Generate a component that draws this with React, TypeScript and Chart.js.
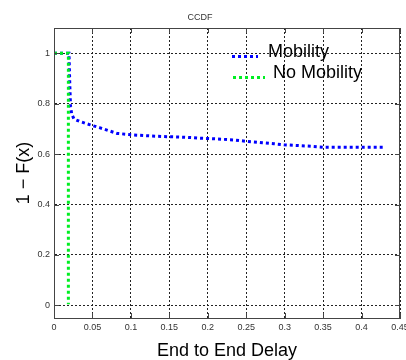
import React, { useEffect, useRef } from 'react';
import { Chart, registerables } from 'chart.js';

Chart.register(...registerables);

const seriesNames = ['Mobility', 'No Mobility'];
const seriesColors = ['#0000ff', '#00ee22'];

const mobilityX = [0, 0.0195, 0.0205, 0.0215, 0.023, 0.026, 0.033, 0.046, 0.06, 0.071, 0.082, 0.1035, 0.125, 0.147, 0.169, 0.191, 0.212, 0.234, 0.249, 0.271, 0.286, 0.299, 0.317, 0.334, 0.352, 0.395, 0.428];
const mobilityY = [1, 1, 0.88, 0.79, 0.759, 0.739, 0.73, 0.717, 0.704, 0.693, 0.682, 0.676, 0.672, 0.669, 0.667, 0.663, 0.66, 0.656, 0.651, 0.645, 0.641, 0.637, 0.634, 0.631, 0.627, 0.627, 0.627];

const noMobilityX = [0, 0.0187, 0.0187];
const noMobilityY = [1, 1, 0.005];

const xTicks = [0, 0.05, 0.1, 0.15, 0.2, 0.25, 0.3, 0.35, 0.4, 0.45];
const yTicks = [0, 0.2, 0.4, 0.6, 0.8, 1];

const chartTitle = 'CCDF';
const xTitle = 'End to End Delay';
const yTitle = '1 \u2212 F(x)';

const FONT = "'Liberation Sans', Arial, Helvetica, sans-serif";

const boxPlugin = {
  id: 'boxPlugin',
  afterDatasetsDraw(chart: any) {
    const { ctx, chartArea, scales } = chart;
    const { left, right, top, bottom } = chartArea;
    ctx.save();
    ctx.strokeStyle = '#444';
    ctx.lineWidth = 1;
    ctx.setLineDash([]);
    ctx.beginPath();
    const tl = 5;
    for (const v of xTicks) {
      const px = Math.round(scales.x.getPixelForValue(v)) + 0.5;
      ctx.moveTo(px, bottom);
      ctx.lineTo(px, bottom - tl);
      ctx.moveTo(px, top);
      ctx.lineTo(px, top + tl);
    }
    for (const v of yTicks) {
      const py = Math.round(scales.y.getPixelForValue(v)) + 0.5;
      ctx.moveTo(left, py);
      ctx.lineTo(left + tl, py);
      ctx.moveTo(right, py);
      ctx.lineTo(right - tl, py);
    }
    ctx.stroke();
    ctx.strokeRect(Math.round(left) + 0.5, Math.round(top) + 0.5, Math.round(right - left) - 1, Math.round(bottom - top));
    ctx.restore();
  },
};

const legendPlugin = {
  id: 'innerLegend',
  afterDraw(chart: any) {
    const { ctx, chartArea } = chart;
    const { right, top } = chartArea;
    const items = [
      { x1: right - 168, x2: right - 142, ly: top + 28.5, tx: right - 132, ty: top + 24.5 },
      { x1: right - 167, x2: right - 135, ly: top + 49.5, tx: right - 127, ty: top + 45.5 },
    ];
    ctx.save();
    items.forEach((it, i) => {
      ctx.strokeStyle = seriesColors[i];
      ctx.lineWidth = 3;
      ctx.setLineDash([3, 3]);
      ctx.lineCap = 'butt';
      ctx.beginPath();
      ctx.moveTo(it.x1, it.ly);
      ctx.lineTo(it.x2, it.ly);
      ctx.stroke();
      ctx.setLineDash([]);
      ctx.fillStyle = '#000';
      ctx.font = `18px ${FONT}`;
      ctx.textBaseline = 'middle';
      ctx.textAlign = 'left';
      ctx.fillText(seriesNames[i], it.tx, it.ty);
    });
    ctx.restore();
  },
};

export default function App() {
  const canvasRef = useRef<HTMLCanvasElement | null>(null);

  useEffect(() => {
    if (!canvasRef.current) return;
    const chart = new Chart(canvasRef.current, {
      type: 'line',
      data: {
        datasets: [
          {
            label: seriesNames[0],
            data: mobilityX.map((x, i) => ({ x, y: mobilityY[i] })),
            borderColor: seriesColors[0],
            backgroundColor: seriesColors[0],
            borderWidth: 3,
            borderDash: [3, 3],
            pointRadius: 0,
            tension: 0,
            fill: false,
            order: 1,
          },
          {
            label: seriesNames[1],
            data: noMobilityX.map((x, i) => ({ x, y: noMobilityY[i] })),
            borderColor: seriesColors[1],
            backgroundColor: seriesColors[1],
            borderWidth: 3,
            borderDash: [3, 3],
            pointRadius: 0,
            tension: 0,
            fill: false,
            order: 0,
          },
        ],
      },
      options: {
        responsive: false,
        animation: false,
        devicePixelRatio: 1,
        layout: { padding: { left: 0, right: 6, top: 0, bottom: 0 } },
        plugins: {
          legend: { display: false },
          tooltip: { enabled: false },
          title: {
            display: true,
            text: chartTitle,
            color: '#333',
            font: { family: FONT, size: 9, weight: 'normal' },
            padding: { top: 12, bottom: 5.2 },
          },
        },
        scales: {
          x: {
            type: 'linear',
            min: 0,
            max: 0.45,
            afterBuildTicks: (s: any) => {
              s.ticks = xTicks.map((v) => ({ value: v }));
            },
            afterFit: (s: any) => {
              s.height = 42;
              s.paddingLeft = 0;
              s.paddingRight = 0;
            },
            grid: { color: '#222', lineWidth: 1, drawTicks: false },
            border: { display: true, color: '#444', dash: [2, 2] },
            ticks: {
              padding: 4,
              color: '#333',
              font: { family: FONT, size: 9 },
              maxRotation: 0,
              autoSkip: false,
              callback: (v: any) => String(v),
            },
            title: {
              display: true,
              text: xTitle,
              color: '#000',
              font: { family: FONT, size: 18, lineHeight: 1 },
              padding: { top: 0, bottom: 0 },
            },
          },
          y: {
            type: 'linear',
            min: -0.05,
            max: 1.1,
            afterBuildTicks: (s: any) => {
              s.ticks = yTicks.map((v) => ({ value: v }));
            },
            afterFit: (s: any) => {
              s.width = 54;
              s.paddingTop = 0;
              s.paddingBottom = 0;
            },
            grid: { color: '#222', lineWidth: 1, drawTicks: false },
            border: { display: true, color: '#444', dash: [2, 2] },
            ticks: {
              padding: 4,
              color: '#333',
              font: { family: FONT, size: 9 },
              autoSkip: false,
              callback: (v: any) => String(v),
            },
            title: {
              display: true,
              text: yTitle,
              color: '#000',
              font: { family: FONT, size: 18, lineHeight: 1 },
              padding: { top: 15, bottom: 0 },
            },
          },
        },
      },
      plugins: [boxPlugin, legendPlugin],
    } as any);
    return () => chart.destroy();
  }, []);

  return (
    <div style={{ position: 'fixed', left: 0, top: 0, width: 406, height: 360, background: '#fff' }}>
      <canvas ref={canvasRef} width={406} height={360} style={{ width: 406, height: 360, display: 'block' }} />
    </div>
  );
}
